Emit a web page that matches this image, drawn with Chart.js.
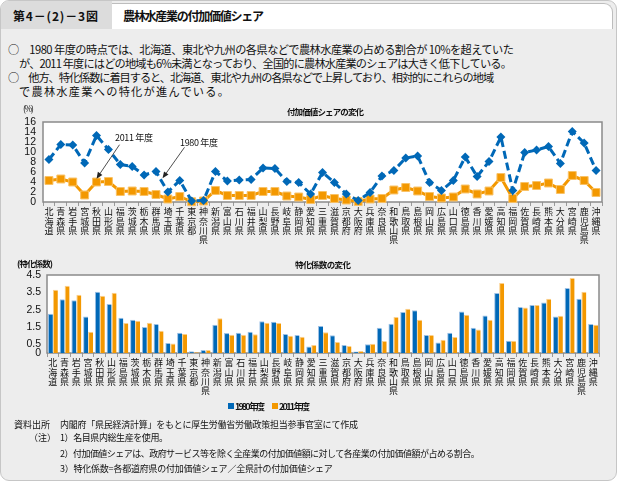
<!DOCTYPE html>
<html lang="ja">
<head>
<meta charset="utf-8">
<title>農林水産業の付加価値シェア</title>
<script src="https://cdn.jsdelivr.net/npm/chart.js@4"></script>
<style>
  body { margin: 0; background: #fff; font-family: "Noto Sans CJK JP", sans-serif; color: #111; }
  #fig { position: absolute; left: 0; top: 0; width: 615px; height: 479px; background: #ededed;
         border: 1px solid #c6c6c6; border-radius: 9px; overflow: hidden; }
  #hdrL { position: absolute; left: 0; top: 0; width: 111px; height: 28px; background: #dcdcdc; }
  #hdrR { position: absolute; left: 111px; top: 2px; width: 500px; height: 25px; background: #fff;
          border-top: 1px solid #bdbdbd; border-right: 1px solid #bdbdbd; border-top-right-radius: 9px; }
  .t { position: absolute; white-space: nowrap; line-height: 1; }
  .b { font-weight: bold; }
  .box { position: absolute; width: 6px; height: 6px; }
  canvas { position: absolute; left: 0; }
</style>
</head>
<body>
<div id="fig">
  <div id="hdrL"></div>
  <div id="hdrR"></div>
  <div class="t b" style="left:12px;top:9px;font-size:12px" data-w="85">第4－(2)－3図</div>
  <div class="t b" style="left:122px;top:9px;font-size:12px" data-w="141">農林水産業の付加価値シェア</div>

  <div class="t" style="left:7px;top:42.5px;font-size:11.2px" data-w="506">○　1980 年度の時点では、北海道、東北や九州の各県などで農林水産業の占める割合が 10%を超えていた</div>
  <div class="t" style="left:18px;top:56.5px;font-size:11.2px" data-w="493">が、2011 年度にはどの地域も6%未満となっており、全国的に農林水産業のシェアは大きく低下している。</div>
  <div class="t" style="left:7px;top:71px;font-size:11.2px" data-w="486">○　他方、特化係数に着目すると、北海道、東北や九州の各県などで上昇しており、相対的にこれらの地域</div>
  <div class="t" style="left:18px;top:84.5px;font-size:11.2px" data-w="210">で農林水産業への特化が進んでいる。</div>

  <canvas id="shareChart" width="621" height="150" style="top:100px"></canvas>
  <canvas id="coefChart" width="621" height="145" style="top:255px"></canvas>

  <div class="t" style="left:22px;top:103px;font-size:8.5px" data-w="11">(%)</div>
  <div class="t b" style="left:286px;top:106px;font-size:8.5px" data-w="77">付加価値シェアの変化</div>
  <div class="t" style="left:114px;top:132px;font-size:9px" data-w="38">2011 年度</div>
  <div class="t" style="left:179px;top:137px;font-size:9px" data-w="38">1980 年度</div>

  <div class="t b" style="left:16px;top:258px;font-size:8.5px" data-w="36">(特化係数)</div>
  <div class="t b" style="left:294px;top:259px;font-size:8.5px" data-w="56">特化係数の変化</div>

  <div class="box" style="left:227px;top:402px;background:#0068b7"></div>
  <div class="t b" style="left:234px;top:400.5px;font-size:9px" data-w="30">1980 年度</div>
  <div class="box" style="left:271px;top:402px;background:#f39800"></div>
  <div class="t b" style="left:278px;top:400.5px;font-size:9px" data-w="31">2011 年度</div>

  <div class="t" style="left:13px;top:419px;font-size:9px" data-w="36">資料出所</div>
  <div class="t" style="left:59px;top:419px;font-size:9px" data-w="298">内閣府「県民経済計算」をもとに厚生労働省労働政策担当参事官室にて作成</div>
  <div class="t" style="left:28px;top:431.5px;font-size:9px">（注）</div>
  <div class="t" style="left:59px;top:431.5px;font-size:9px" data-w="108">1）名目県内総生産を使用。</div>
  <div class="t" style="left:59px;top:447.5px;font-size:9px" data-w="420">2）付加価値シェアは、政府サービス等を除く全産業の付加価値額に対して各産業の付加価値額が占める割合。</div>
  <div class="t" style="left:59px;top:462.5px;font-size:9px" data-w="273">3）特化係数=各都道府県の付加価値シェア／全県計の付加価値シェア</div>
</div>

<script>
const prefectures = ['北海道', '青森県', '岩手県', '宮城県', '秋田県', '山形県', '福島県', '茨城県', '栃木県', '群馬県',
    '埼玉県', '千葉県', '東京都', '神奈川県', '新潟県', '富山県', '石川県', '福井県', '山梨県', '長野県',
    '岐阜県', '静岡県', '愛知県', '三重県', '滋賀県', '京都府', '大阪府', '兵庫県', '奈良県', '和歌山県',
    '鳥取県', '島根県', '岡山県', '広島県', '山口県', '徳島県', '香川県', '愛媛県', '高知県', '福岡県',
    '佐賀県', '長崎県', '熊本県', '大分県', '宮崎県', '鹿児島県', '沖縄県'];

// 付加価値シェア (%)
const share1980 = [8.5, 11.5, 11.4, 7.8, 13.3, 10.5, 7.5, 7.1, 5.4, 6.1,
    2.0, 4.3, 0.2, 0.3, 6.1, 4.2, 4.4, 4.5, 6.8, 6.7,
    4.1, 3.9, 1.6, 5.9, 3.9, 1.6, 0.3, 1.9, 5.2, 6.3,
    8.8, 9.2, 3.9, 2.3, 4.3, 9.0, 5.1, 8.1, 13.0, 2.3,
    9.9, 10.4, 11.1, 7.7, 14.1, 11.8, 6.3];
const share2011 = [4.3, 4.6, 4.0, 1.4, 4.0, 4.1, 2.1, 2.2, 2.1, 1.5,
    0.6, 1.1, 0.05, 0.2, 2.3, 1.3, 1.3, 1.3, 2.1, 2.1,
    1.2, 1.0, 0.5, 1.3, 0.7, 0.4, 0.1, 0.6, 0.7, 2.4,
    2.9, 2.2, 1.1, 0.8, 1.0, 2.6, 1.6, 2.2, 4.9, 0.7,
    3.1, 3.3, 3.8, 2.5, 5.3, 4.3, 1.9];

// 特化係数
const coef1980 = [2.27, 3.1, 3.05, 2.1, 3.54, 2.83, 2.04, 1.92, 1.5, 1.67,
    0.58, 1.17, 0.1, 0.17, 1.63, 1.15, 1.17, 1.23, 1.83, 1.8,
    1.1, 1.04, 0.38, 1.56, 1.02, 0.46, 0.08, 0.5, 1.46, 1.69,
    2.36, 2.46, 1.04, 0.61, 1.17, 2.4, 1.46, 2.17, 3.46, 0.71,
    2.65, 2.77, 2.92, 2.1, 3.75, 3.13, 1.67];
const coef2011 = [3.65, 3.88, 3.36, 1.23, 3.3, 3.48, 1.73, 1.86, 1.75, 1.29,
    0.55, 1.1, 0.05, 0.18, 2.0, 1.06, 1.06, 1.08, 1.75, 1.73,
    1.0, 0.94, 0.46, 1.19, 0.63, 0.4, 0.12, 0.54, 0.69, 2.08,
    2.56, 1.92, 1.04, 0.77, 0.92, 2.21, 1.35, 1.92, 4.04, 0.71,
    2.63, 2.77, 3.13, 2.15, 4.33, 3.54, 1.63];

const shareTicks = [0, 2, 4, 6, 8, 10, 12, 14, 16];
const coefTicks = [0, 0.5, 1.5, 2.5, 3.5, 4.5];

const BLUE = '#0068b7';
const ORANGE = '#f39800';

// vertical labels: one character per line
const prefLabels = prefectures.map(p => p.split(''));

Chart.defaults.font.family = '"Liberation Sans", "Noto Sans CJK JP", sans-serif';
Chart.defaults.color = '#111';

// white plot area with grey frame
const framePlugin = {
    id: 'frame',
    beforeDraw(chart) {
        const { ctx, chartArea: a } = chart;
        ctx.save();
        ctx.fillStyle = '#fff';
        ctx.fillRect(a.left, a.top, a.right - a.left, a.bottom - a.top);
        ctx.restore();
    },
    beforeDatasetsDraw(chart) {
        const { ctx, chartArea: a } = chart;
        ctx.save();
        ctx.strokeStyle = '#8a8a8a';
        ctx.lineWidth = 1.5;
        ctx.strokeRect(a.left, a.top, a.right - a.left, a.bottom - a.top);
        ctx.restore();
    }
};

// arrows from the year notes to the lines (tip in data units, tail offset in px)
const arrowNotes = [
    { index: 4, value: 4.66, dx: 23, dy: -34 },
    { index: 9.55, value: 4.74, dx: 22, dy: -31 }
];

const arrowPlugin = {
    id: 'arrows',
    afterDatasetsDraw(chart) {
        const { ctx, scales } = chart;
        ctx.save();
        ctx.strokeStyle = '#222';
        ctx.fillStyle = '#222';
        ctx.lineWidth = 0.8;
        arrowNotes.forEach(n => {
            const x = scales.x.getPixelForValue(n.index);
            const y = scales.y.getPixelForValue(n.value);
            const ang = Math.atan2(-n.dy, -n.dx);
            ctx.beginPath();
            ctx.moveTo(x + n.dx, y + n.dy);
            ctx.lineTo(x - Math.cos(ang) * 4, y - Math.sin(ang) * 4);
            ctx.stroke();
            ctx.beginPath();
            ctx.moveTo(x, y);
            ctx.lineTo(x - Math.cos(ang - 0.4) * 7, y - Math.sin(ang - 0.4) * 7);
            ctx.lineTo(x - Math.cos(ang + 0.4) * 7, y - Math.sin(ang + 0.4) * 7);
            ctx.closePath();
            ctx.fill();
        });
        ctx.restore();
    }
};

function xAxis(height) {
    return {
        offset: true,
        border: { display: false },
        grid: { offset: true, drawOnChartArea: false, tickLength: 4, color: '#9a9a9a' },
        ticks: {
            autoSkip: false, maxRotation: 0, minRotation: 0, padding: 1,
            font: { family: '"Noto Sans CJK JP", sans-serif', size: 9, lineHeight: '9.4px' }
        },
        afterFit(scale) { scale.height = height; }
    };
}

function yAxis(min, max, tickValues, width, pad) {
    return {
        min: min, max: max,
        border: { display: false },
        grid: { display: false, drawTicks: false },
        afterBuildTicks(scale) { scale.ticks = tickValues.map(v => ({ value: v })); },
        ticks: { autoSkip: false, padding: pad, font: { size: 10.5, lineHeight: 1 } },
        afterFit(scale) { scale.width = width; }
    };
}

const shareChart = new Chart(document.getElementById('shareChart'), {
    type: 'line',
    data: {
        labels: prefLabels,
        datasets: [{
            label: '1980 年度',
            data: share1980,
            borderColor: BLUE,
            backgroundColor: BLUE,
            borderWidth: 3,
            borderDash: [8, 4],
            pointStyle: 'rectRot',
            pointRadius: 4.5,
            pointBorderWidth: 0,
            clip: false
        }, {
            label: '2011 年度',
            data: share2011,
            borderColor: ORANGE,
            backgroundColor: ORANGE,
            borderWidth: 3,
            pointStyle: 'rect',
            pointRadius: 5.6,
            pointBorderColor: '#f9c266',
            pointBorderWidth: 1,
            clip: false
        }]
    },
    options: {
        responsive: false,
        animation: false,
        layout: { padding: { top: 21, right: 20, bottom: 0, left: 0 } },
        plugins: { legend: { display: false }, tooltip: { enabled: false } },
        scales: {
            x: xAxis(49),
            y: yAxis(0, 16, shareTicks, 42, 7)
        }
    },
    plugins: [framePlugin, arrowPlugin]
});

const coefChart = new Chart(document.getElementById('coefChart'), {
    type: 'bar',
    data: {
        labels: prefLabels,
        datasets: [{
            label: '1980 年度',
            data: coef1980,
            backgroundColor: BLUE,
            borderColor: '#9dc1e6',
            borderWidth: { top: 1, left: 1, right: 0, bottom: 0 },
            borderSkipped: false
        }, {
            label: '2011 年度',
            data: coef2011,
            backgroundColor: ORANGE,
            borderColor: '#fbd08c',
            borderWidth: { top: 1, left: 1, right: 0, bottom: 0 },
            borderSkipped: false
        }]
    },
    options: {
        responsive: false,
        animation: false,
        categoryPercentage: 0.85,
        barPercentage: 1.0,
        layout: { padding: { top: 19, right: 23, bottom: 0, left: 0 } },
        plugins: { legend: { display: false }, tooltip: { enabled: false } },
        scales: {
            x: xAxis(48),
            y: yAxis(0, 4.5, coefTicks, 46, 6)
        }
    },
    plugins: [framePlugin]
});

// squeeze or stretch each text line to the width measured on the reference
function fitText() {
    document.querySelectorAll('[data-w]').forEach(el => {
        el.style.letterSpacing = '0px';
        const n = [...el.textContent].length;
        const w = el.getBoundingClientRect().width;
        if (n > 1) {
            el.style.letterSpacing = ((+el.dataset.w - w) / (n - 1)).toFixed(2) + 'px';
        }
    });
}
fitText();
document.fonts.ready.then(fitText);
</script>
</body>
</html>
